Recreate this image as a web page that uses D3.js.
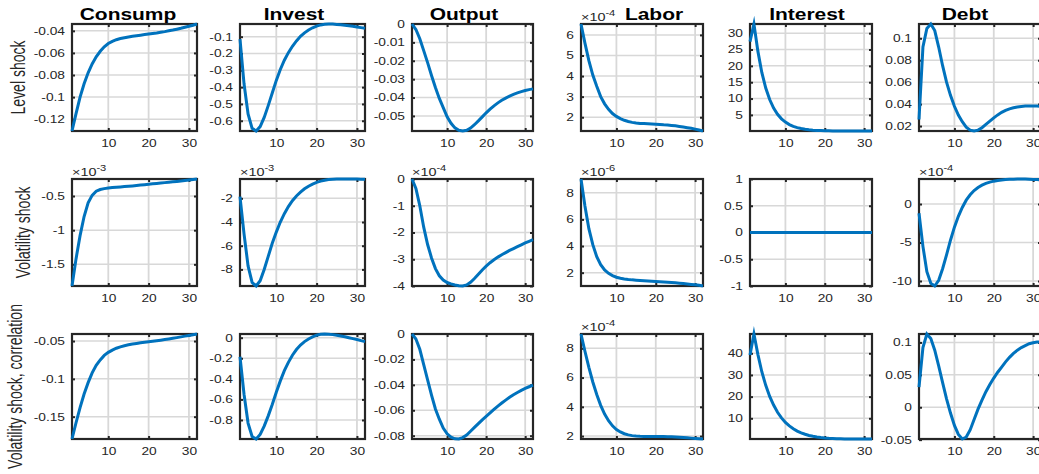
<!DOCTYPE html>
<html><head><meta charset="utf-8">
<script src="https://cdn.jsdelivr.net/npm/d3@7"></script>
<style>body{margin:0;background:#fff}svg{display:block}</style>
</head><body>
<svg id="c" width="1039" height="474"></svg>
<script>
const periods = [1,2,3,4,5,6,7,8,9,10,11,12,13,14,15,16,17,18,19,20,21,22,23,24,25,26,27,28,29,30,31,32];
const variables = ["Consump","Invest","Output","Labor","Interest","Debt"];
const shocks = ["Level shock","Volatility shock","Volatility shock, correlation"];

// Level shock
const consumpLevel = [-0.1307,-0.115,-0.100,-0.088,-0.078,-0.070,-0.0635,-0.0585,-0.0545,-0.0515,-0.0495,-0.048,-0.047,-0.0462,-0.0455,-0.0449,-0.0444,-0.0439,-0.0434,-0.0429,-0.0424,-0.0419,-0.0413,-0.0407,-0.0400,-0.0393,-0.0385,-0.0377,-0.0368,-0.0359,-0.0349,-0.0338];
const investLevel = [-0.115,-0.38,-0.56,-0.645,-0.661,-0.635,-0.58,-0.51,-0.435,-0.36,-0.295,-0.24,-0.195,-0.157,-0.125,-0.098,-0.077,-0.06,-0.047,-0.037,-0.03,-0.026,-0.0245,-0.025,-0.027,-0.029,-0.032,-0.035,-0.038,-0.042,-0.046,-0.050];
const outputLevel = [0,-0.003,-0.008,-0.0145,-0.021,-0.028,-0.0345,-0.0405,-0.0455,-0.0505,-0.054,-0.0565,-0.0578,-0.0582,-0.0578,-0.0566,-0.0548,-0.0527,-0.0505,-0.0483,-0.0463,-0.0445,-0.0429,-0.0415,-0.0403,-0.0392,-0.0383,-0.0375,-0.0368,-0.0362,-0.0357,-0.0353];
const laborLevel = [6.53,5.6,4.75,4.05,3.5,3.0,2.65,2.38,2.18,2.04,1.93,1.85,1.79,1.75,1.72,1.70,1.69,1.68,1.67,1.66,1.65,1.63,1.62,1.60,1.58,1.55,1.52,1.49,1.46,1.42,1.38,1.33];
const interestLevel = [27.4,32.8,24.5,18.0,13.2,9.7,7.1,5.2,3.8,2.8,2.05,1.5,1.1,0.82,0.6,0.45,0.34,0.26,0.2,0.16,0.13,0.11,0.1,0.09,0.09,0.08,0.08,0.08,0.08,0.08,0.08,0.08];
const debtLevel = [0.026,0.092,0.109,0.113,0.107,0.092,0.075,0.06,0.048,0.038,0.03,0.024,0.019,0.0163,0.0155,0.0163,0.0185,0.0215,0.0245,0.0275,0.0302,0.0325,0.0343,0.0357,0.0367,0.0374,0.0379,0.0382,0.0383,0.0383,0.0382,0.038];

// Volatility shock
const consumpVol = [-1.817,-1.42,-1.08,-0.8,-0.6,-0.49,-0.43,-0.405,-0.392,-0.383,-0.377,-0.372,-0.367,-0.362,-0.357,-0.352,-0.346,-0.34,-0.334,-0.328,-0.322,-0.316,-0.31,-0.304,-0.298,-0.292,-0.286,-0.28,-0.274,-0.267,-0.259,-0.251];
const investVol = [-1.86,-5.0,-7.7,-9.1,-9.4,-8.95,-8.0,-6.9,-5.8,-4.85,-4.0,-3.3,-2.7,-2.2,-1.8,-1.48,-1.2,-0.98,-0.8,-0.66,-0.55,-0.47,-0.42,-0.39,-0.375,-0.37,-0.37,-0.372,-0.376,-0.38,-0.385,-0.39];
const outputVol = [0,-0.35,-1.0,-1.8,-2.45,-2.95,-3.35,-3.62,-3.78,-3.87,-3.92,-3.96,-3.99,-4.0,-3.96,-3.86,-3.72,-3.56,-3.4,-3.26,-3.13,-3.02,-2.92,-2.83,-2.75,-2.67,-2.6,-2.53,-2.46,-2.39,-2.33,-2.27];
const laborVol = [9.03,7.0,5.3,4.1,3.2,2.6,2.2,1.95,1.78,1.66,1.58,1.53,1.49,1.46,1.44,1.42,1.4,1.38,1.36,1.34,1.32,1.3,1.28,1.26,1.24,1.21,1.18,1.15,1.12,1.09,1.05,1.0];
const interestVol = [0,0,0,0,0,0,0,0,0,0,0,0,0,0,0,0,0,0,0,0,0,0,0,0,0,0,0,0,0,0,0,0];
const debtVol = [-1.2,-5.5,-8.8,-10.3,-10.65,-9.9,-8.4,-6.6,-4.7,-3.0,-1.6,-0.45,0.5,1.2,1.75,2.15,2.45,2.68,2.85,2.97,3.06,3.13,3.18,3.21,3.23,3.25,3.25,3.24,3.22,3.2,3.17,3.14];

// Volatility shock, correlation
const consumpCorr = [-0.1795,-0.158,-0.138,-0.12,-0.105,-0.092,-0.082,-0.075,-0.069,-0.065,-0.062,-0.0595,-0.0577,-0.0562,-0.055,-0.054,-0.0532,-0.0524,-0.0517,-0.051,-0.0503,-0.0496,-0.0489,-0.0481,-0.0473,-0.0464,-0.0455,-0.0445,-0.0435,-0.0426,-0.0416,-0.0407];
const investCorr = [-0.185,-0.55,-0.83,-0.96,-0.985,-0.94,-0.86,-0.76,-0.65,-0.53,-0.42,-0.32,-0.24,-0.17,-0.115,-0.072,-0.038,-0.012,0.008,0.024,0.033,0.036,0.034,0.03,0.024,0.017,0.009,0.0,-0.009,-0.018,-0.028,-0.038];
const outputCorr = [0,-0.004,-0.012,-0.024,-0.036,-0.048,-0.059,-0.067,-0.074,-0.0785,-0.0812,-0.0825,-0.0826,-0.0815,-0.0795,-0.0765,-0.0735,-0.0705,-0.0675,-0.0648,-0.062,-0.0593,-0.0567,-0.0543,-0.052,-0.0498,-0.0478,-0.046,-0.0443,-0.0428,-0.0415,-0.0402];
const laborCorr = [8.98,7.8,6.7,5.7,4.85,4.1,3.5,3.05,2.7,2.45,2.28,2.16,2.08,2.03,2.0,1.98,1.97,1.97,1.97,1.97,1.97,1.97,1.96,1.95,1.94,1.92,1.9,1.88,1.86,1.84,1.82,1.8];
const interestCorr = [39.2,48.9,39.5,31.5,25.2,20.1,16.1,12.8,10.2,8.1,6.5,5.2,4.1,3.3,2.65,2.1,1.7,1.35,1.1,0.9,0.75,0.65,0.58,0.53,0.5,0.48,0.47,0.46,0.45,0.45,0.45,0.45];
const debtCorr = [0.031,0.092,0.113,0.106,0.088,0.064,0.038,0.013,-0.009,-0.028,-0.042,-0.049,-0.046,-0.035,-0.019,-0.003,0.011,0.024,0.035,0.045,0.054,0.062,0.07,0.077,0.083,0.088,0.092,0.095,0.098,0.0995,0.1005,0.101];

// Axis exponents (x10^n) shown above each panel, 0 = none
const exponentsLevel = [0,0,0,-4,0,0];
const exponentsVol = [-3,-3,-4,-6,0,-4];
const exponentsCorr = [0,0,0,-4,0,0];

// Y tick labels
const yTicksLevel = [[-0.12,-0.1,-0.08,-0.06,-0.04],[-0.6,-0.5,-0.4,-0.3,-0.2,-0.1],[-0.05,-0.04,-0.03,-0.02,-0.01,0],[2,3,4,5,6],[5,10,15,20,25,30],[0.02,0.04,0.06,0.08,0.1]];
const yTicksVol = [[-1.5,-1,-0.5],[-8,-6,-4,-2],[-4,-3,-2,-1,0],[2,4,6,8],[-1,-0.5,0,0.5,1],[-10,-5,0]];
const yTicksCorr = [[-0.15,-0.1,-0.05],[-0.8,-0.6,-0.4,-0.2,0],[-0.08,-0.06,-0.04,-0.02,0],[2,4,6,8],[10,20,30,40],[-0.05,0,0.05,0.1]];
const xTicks = [10,20,30];

const series = [
  [consumpLevel,investLevel,outputLevel,laborLevel,interestLevel,debtLevel],
  [consumpVol,investVol,outputVol,laborVol,interestVol,debtVol],
  [consumpCorr,investCorr,outputCorr,laborCorr,interestCorr,debtCorr]
];
const exponents = [exponentsLevel,exponentsVol,exponentsCorr];
const yTicks = [yTicksLevel,yTicksVol,yTicksCorr];

// Layout
const colLeft = [72,240,412,581,750,919];
const colW = [125,125,121,122,122,122];
const titleX = [128,294,464,654,807,965];
const rowTop = [24,179,334];
const rowH = [107,107,105];
const rowLabelX = [25,30,22];
const SX = 1.31;        // horizontal text stretch of the original figure
const LBL_SX = 1.45;
const FONT = "'Liberation Sans', Arial, Helvetica, sans-serif";
const DARK = "#262626";
const BLUE = "#0072BD";

const svg = d3.select("#c");
svg.append("rect").attr("width",1039).attr("height",474).attr("fill","#fff");

const fmt = v => String(+v.toFixed(6));

function stretchTexts(sel){
  sel.each(function(){
    const t = d3.select(this);
    const x = +t.attr("x") || 0;
    t.attr("x", x / SX).attr("transform", `scale(${SX},1)`);
  });
}

for (let r = 0; r < 3; r++) {
  for (let c = 0; c < 6; c++) {
    const L = colLeft[c], T = rowTop[r], w = colW[c], h = rowH[r];
    const data = series[r][c];
    const ticks = yTicks[r][c];
    let dom = d3.extent(data);
    if (dom[0] === dom[1]) dom = [dom[0]-1, dom[1]+1];
    const x = d3.scaleLinear().domain([1,32]).range([0,w]);
    const y = d3.scaleLinear().domain(dom).range([h,0]);
    const g = svg.append("g").attr("transform",`translate(${L},${T})`);

    // grid
    g.append("g").selectAll("line").data(xTicks).join("line")
      .attr("x1",d=>x(d)).attr("x2",d=>x(d)).attr("y1",0).attr("y2",h)
      .attr("stroke","#d8d8d8").attr("stroke-width",1.8);
    g.append("g").selectAll("line").data(ticks).join("line")
      .attr("y1",d=>y(d)).attr("y2",d=>y(d)).attr("x1",0).attr("x2",w)
      .attr("stroke","#d8d8d8").attr("stroke-width",1.5);

    // axes (inside ticks on all four sides)
    const axL = g.append("g").call(d3.axisLeft(y).tickValues(ticks).tickFormat(fmt).tickSize(-3).tickSizeOuter(0).tickPadding(7));
    const axR = g.append("g").attr("transform",`translate(${w},0)`).call(d3.axisRight(y).tickValues(ticks).tickFormat("").tickSize(-3).tickSizeOuter(0));
    const axB = g.append("g").attr("transform",`translate(0,${h})`).call(d3.axisBottom(x).tickValues(xTicks).tickFormat(fmt).tickSize(-3).tickSizeOuter(0));
    const axT = g.append("g").call(d3.axisTop(x).tickValues(xTicks).tickFormat("").tickSize(-3).tickSizeOuter(0));
    [axL,axR,axB,axT].forEach(a=>{
      a.select(".domain").remove();
      a.selectAll("line").attr("stroke",DARK).attr("stroke-width",2);
      a.selectAll("text").attr("fill",DARK).attr("font-family",FONT).attr("font-size","10.5px");
    });
    axB.selectAll("text").attr("y",16).attr("dy",0);
    stretchTexts(axL.selectAll("text"));
    stretchTexts(axB.selectAll("text"));

    // box
    g.append("rect").attr("width",w).attr("height",h).attr("fill","none")
      .attr("stroke",DARK).attr("stroke-width",2.2);

    // curve
    g.append("path").datum(data)
      .attr("d", d3.line().x((d,i)=>x(periods[i])).y(d=>y(d)))
      .attr("fill","none").attr("stroke",BLUE).attr("stroke-width",3)
      .attr("stroke-linejoin","miter").attr("stroke-miterlimit",10);

    // exponent
    const e = exponents[r][c];
    if (e !== 0) {
      const t = svg.append("text").attr("transform",`translate(${L},${T-3}) scale(${SX},1)`)
        .attr("font-family",FONT).attr("font-size","11px").attr("fill",DARK);
      t.append("tspan").text("\u00d710");
      t.append("tspan").attr("dy",-5).attr("font-size","8.5px").text(String(e));
    }

    // titles
    if (r === 0) {
      svg.append("text").attr("transform",`translate(${titleX[c]},${T-4}) scale(${SX},1)`)
        .attr("text-anchor","middle").attr("font-family",FONT).attr("font-weight","bold")
        .attr("font-size","16px").attr("fill","#000").text(variables[c]);
    }
  }
  // row label
  svg.append("text")
    .attr("transform",`translate(${rowLabelX[r]},${rowTop[r]+rowH[r]/2}) scale(${LBL_SX},1) rotate(-90)`)
    .attr("text-anchor","middle").attr("font-family",FONT).attr("font-size","14px")
    .attr("fill",DARK).text(shocks[r]);
}
</script>
</body></html>
